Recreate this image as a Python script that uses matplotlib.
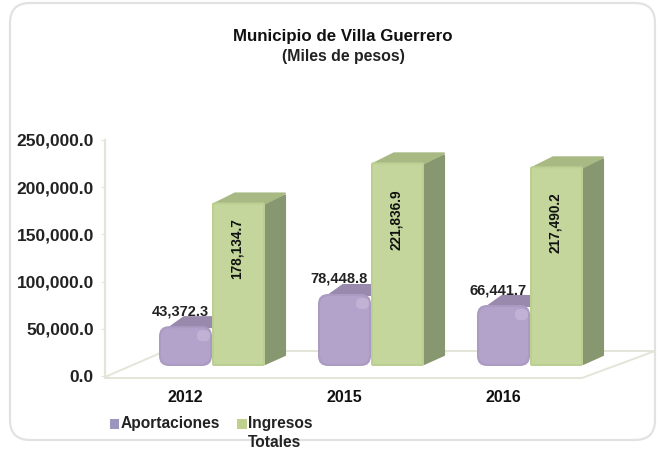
"""
plot.py

Municipio de Villa Guerrero: 3D-looking grouped bars drawn with matplotlib patches.
"""
import matplotlib
matplotlib.use("Agg")
import matplotlib.pyplot as plt
from matplotlib.patches import FancyBboxPatch, Polygon, Patch

years = ["2012", "2015", "2016"]
aportaciones = [43372.3, 78448.8, 66441.7]
ingresos = [178134.7, 221836.9, 217490.2]
y_ticks = [0, 50000, 100000, 150000, 200000, 250000]

W, H = 660, 453
plt.rcParams["font.family"] = ["Liberation Sans", "DejaVu Sans"]

fig = plt.figure(figsize=(W / 100, H / 100), dpi=100, facecolor="white")

# outer rounded frame, in pixels
bg = fig.add_axes([0, 0, 1, 1])
bg.set_xlim(0, W)
bg.set_ylim(H, 0)
bg.axis("off")
bg.add_patch(FancyBboxPatch((10, 3), 645, 437, boxstyle="round,pad=0,rounding_size=20",
                            fc="white", ec="#e2e2e2", lw=1.6))

# floor of the 3D plot
floor = "#e3e5d8"
bg.plot([105, 165, 655, 582, 105], [377, 351, 351, 378, 378], color=floor, lw=1.4)

# value axis with the labels
ax = fig.add_axes([105 / W, 1 - 376 / H, (582 - 105) / W, (376 - 140) / H])
ax.patch.set_alpha(0)
ax.set_ylim(0, 250000)
ax.set_xlim(-80 / 159, (582 - 105 - 80) / 159)
ax.set_yticks(y_ticks)
ax.set_yticklabels([f"{v:,.1f}" for v in y_ticks], fontsize=12.5, fontweight="bold", color="#222222")
ax.set_xticks(range(len(years)))
ax.set_xticklabels(years, fontsize=11.5, fontweight="bold", color="#111111")
ax.tick_params(axis="y", length=3, color=floor, pad=5)
ax.tick_params(axis="x", length=0, pad=10)
for s in ["top", "right", "bottom"]:
    ax.spines[s].set_visible(False)
ax.spines["left"].set_color(floor)
ax.spines["left"].set_linewidth(1.6)

# bars live on their own axes, base sits a bit above the axis zero
PX_Y = 0.918 / 1000  # pixels per peso thousand
PX_X = 159.0
bars = fig.add_axes([0, 0, 1, 1])
bars.patch.set_alpha(0)
bars.axis("off")
bars.set_xlim(-212 / PX_X, (W - 212) / PX_X)
bars.set_ylim(-(H - 366) / PX_Y, 366 / PX_Y)
dx = 1 / PX_X
dy = 1 / PX_Y
aspect = dy / dx


def rounded(x, y, w, h, radius, color):
    style = f"round,pad=0,rounding_size={radius * dx}"
    bars.add_patch(FancyBboxPatch((x, y), w, h, boxstyle=style, mutation_aspect=aspect,
                                  fc=color, ec="none", zorder=3))


def draw_bar(x0, value, front, top, side, rim, depth_x, radius):
    width = 53 * dx
    d_x = depth_x * dx
    d_y = 9 * dy
    # side and top faces, pulled in by the corner radius
    bars.add_patch(Polygon([(x0 + width, radius * dy), (x0 + width + d_x, d_y + radius * dy),
                            (x0 + width + d_x, value + d_y - 2 * dy),
                            (x0 + width, value - radius * dy)],
                           fc=side, ec=side, lw=1.5, joinstyle="round", zorder=2))
    bars.add_patch(Polygon([(x0 + (radius + 1) * dx, value - 1 * dy),
                            (x0 + d_x + (radius + 1) * dx, value + d_y),
                            (x0 + width + d_x, value + d_y),
                            (x0 + width, value - 1 * dy)],
                           fc=top, ec=top, lw=1.5, joinstyle="round", zorder=2))
    # front face
    rounded(x0, 0, width, value, radius, rim)
    inset = 2
    rounded(x0 + inset * dx, inset * dy, width - 2 * inset * dx, value - 2 * inset * dy,
            max(radius - 1, 0.5), front)


for i, (a, g) in enumerate(zip(aportaciones, ingresos)):
    # purple goes first so the green one covers its side
    draw_bar(i - 53 * dx, a, "#b3a3ca", "#9889ad", "#8e7ea6", "#ab9bc2", 14, 10)
    rounded(i - 15 * dx, a - 15 * dy, 13 * dx, 11 * dy, 5, "#bfb2d4")
    draw_bar(i, g, "#c4d69b", "#a8b984", "#879870", "#bccf93", 20, 2)
    bars.annotate(f"{a:,.1f}", (i - 32 * dx, a), xytext=(0, 15), textcoords="offset pixels",
                  ha="center", va="center", fontsize=10.5, fontweight="bold", color="#222222",
                  zorder=5)
    bars.text(i + 25 * dx, g * 0.72, f"{g:,.1f}", rotation=90, ha="center", va="center",
              fontsize=9.8, fontweight="bold", color="#111111", zorder=5)

# title
fig.text(343 / W, 1 - 37 / H, "Municipio de Villa Guerrero", ha="center", va="center",
         fontsize=12.2, fontweight="bold", color="#111111")
fig.text(343 / W, 1 - 56 / H, "(Miles de pesos)", ha="center", va="center",
         fontsize=11.4, fontweight="bold", color="#222222")

# legend, the blank second line keeps both labels on the same row
handles = [Patch(fc="#9d95bd", ec="none"), Patch(fc="#bfd08f", ec="none")]
leg = fig.legend(handles, ["Aportaciones\n ", "Ingresos\nTotales"], ncol=2, frameon=False,
                 loc="upper left", bbox_to_anchor=(110 / W, 1 - 416 / H), borderaxespad=0,
                 borderpad=0, handlelength=0.6, handleheight=0.6, handletextpad=0.1,
                 columnspacing=1.1, labelspacing=0,
                 prop={"size": 11.2, "weight": "bold"})
for t in leg.get_texts():
    t.set_color("#222222")
    t.set_linespacing(1.35)
# lift the markers up to the first text line
for h in leg.legend_handles:
    h.set_y(h.get_y() + 7.2)

fig.savefig("out.png", dpi=100)
plt.close(fig)
